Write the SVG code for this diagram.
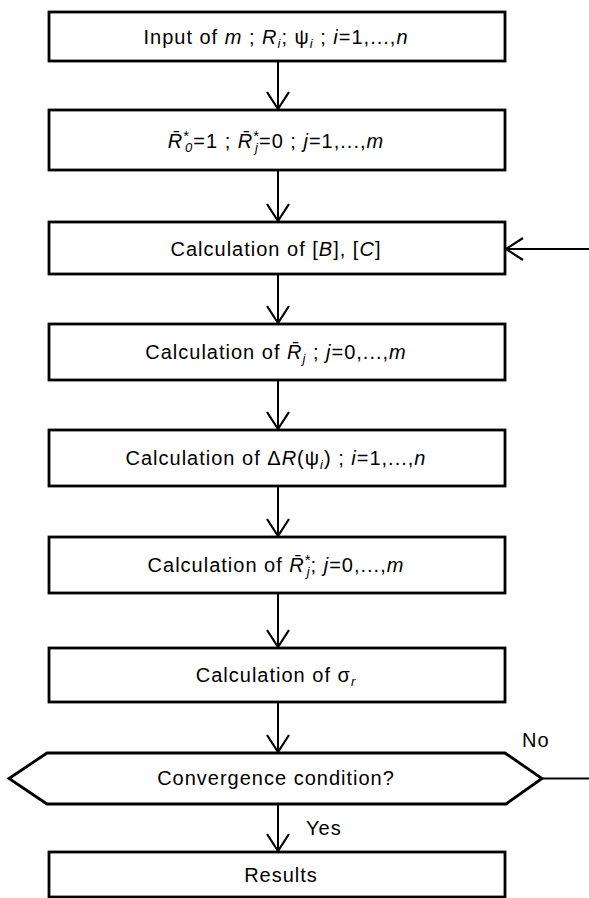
<svg xmlns="http://www.w3.org/2000/svg" width="589" height="898" viewBox="0 0 589 898">
<defs>
<style>
.box{fill:#fff;stroke:#000;stroke-width:2.8}
.con{fill:none;stroke:#000;stroke-width:2}
.t{font-family:"Liberation Sans",Arial,sans-serif;font-size:20px;letter-spacing:1px;fill:#000}
.c{text-anchor:middle}
.i{font-style:italic}
.sb{font-size:13px;font-style:italic}
.sp{font-size:15px}
</style>
<marker id="ah" viewBox="-20 -14 24 28" markerWidth="24" markerHeight="28" refX="0" refY="0" orient="auto" markerUnits="userSpaceOnUse">
<path d="M-17,-11 L0,0 L-17,11" fill="none" stroke="#000" stroke-width="2.2"/>
</marker>
</defs>
<rect width="589" height="898" fill="#fff"/>
<g id="connectors">
<path class="con" d="M278,61 V109" marker-end="url(#ah)"/>
<path class="con" d="M278,170 V221" marker-end="url(#ah)"/>
<path class="con" d="M278,274 V323" marker-end="url(#ah)"/>
<path class="con" d="M278,380 V429" marker-end="url(#ah)"/>
<path class="con" d="M278,486 V536" marker-end="url(#ah)"/>
<path class="con" d="M278,593 V647" marker-end="url(#ah)"/>
<path class="con" d="M278,702 V752" marker-end="url(#ah)"/>
<path class="con" d="M278,804 V851" marker-end="url(#ah)"/>
<path class="con" d="M542,778.5 H589"/>
<path class="con" d="M589,249 H506" marker-end="url(#ah)"/>
<text class="t" x="522" y="747">No</text>
<text class="t" x="306" y="835">Yes</text>
</g>
<g id="n1">
<rect class="box" x="49" y="12" width="456" height="49"/>
<text class="t c" x="276" y="44">Input of <tspan class="i">m</tspan> ; <tspan class="i">R</tspan><tspan class="sb" dy="4">i</tspan><tspan dy="-4">; ψ</tspan><tspan class="sb" dy="4">i</tspan><tspan dy="-4"> ; </tspan><tspan class="i">i</tspan>=1,...,<tspan class="i">n</tspan></text>
</g>
<g id="n2">
<rect class="box" x="49" y="110" width="456" height="60"/>
<text class="t c" x="276" y="148"><tspan class="i">R&#x0304;</tspan><tspan class="sp" dy="-7">*</tspan><tspan class="sb" font-style="normal" dx="-5" dy="11">0</tspan><tspan dy="-4">=1 ; </tspan><tspan class="i">R&#x0304;</tspan><tspan class="sp" dy="-7">*</tspan><tspan class="sb" dx="-5" dy="11">j</tspan><tspan dy="-4">=0 ; </tspan><tspan class="i">j</tspan>=1,...,<tspan class="i">m</tspan></text>
</g>
<g id="n3">
<rect class="box" x="49" y="222" width="456" height="52"/>
<text class="t c" x="276" y="256">Calculation of [<tspan class="i">B</tspan>], [<tspan class="i">C</tspan>]</text>
</g>
<g id="n4">
<rect class="box" x="49" y="324" width="456" height="56"/>
<text class="t c" x="276" y="359">Calculation of <tspan class="i">R&#x0304;</tspan><tspan class="sb" dy="4">j</tspan><tspan dy="-4"> ; </tspan><tspan class="i">j</tspan>=0,...,<tspan class="i">m</tspan></text>
</g>
<g id="n5">
<rect class="box" x="49" y="430" width="456" height="56"/>
<text class="t c" x="276" y="465">Calculation of Δ<tspan class="i">R</tspan>(ψ<tspan class="sb" dy="4">i</tspan><tspan dy="-4">) ; </tspan><tspan class="i">i</tspan>=1,...,<tspan class="i">n</tspan></text>
</g>
<g id="n6">
<rect class="box" x="49" y="537" width="456" height="56"/>
<text class="t c" x="276" y="572">Calculation of <tspan class="i">R&#x0304;</tspan><tspan class="sp" dy="-7">*</tspan><tspan class="sb" dx="-5" dy="11">j</tspan><tspan dy="-4">; </tspan><tspan class="i">j</tspan>=0,...,<tspan class="i">m</tspan></text>
</g>
<g id="n7">
<rect class="box" x="49" y="648" width="456" height="54"/>
<text class="t c" x="276" y="682">Calculation of σ<tspan class="sb" dy="4">r</tspan></text>
</g>
<g id="n8">
<polygon class="box" points="9,778.5 47,753 505,753 542,778.5 506,804 47,804"/>
<text class="t c" x="276" y="785">Convergence condition?</text>
</g>
<g id="n9">
<rect class="box" x="49" y="852" width="456" height="45"/>
<text class="t c" x="281" y="882">Results</text>
</g>
</svg>
